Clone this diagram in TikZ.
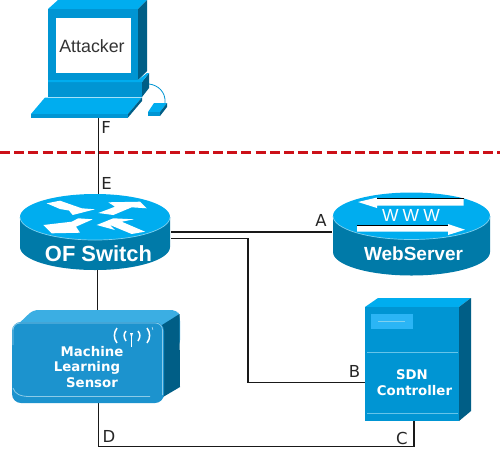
\documentclass[tikz,border=0pt]{standalone}
\usepackage{fontspec}
\setmainfont{DejaVu Sans}
\newfontfamily\arialfont{Liberation Sans}
\definecolor{ctop}{HTML}{00ADEF}
\definecolor{cfront}{HTML}{0095D3}
\definecolor{cside}{HTML}{005E86}
\definecolor{cbody}{HTML}{007AA8}
\definecolor{cedge}{HTML}{7FD0EE}
\definecolor{sensortop}{HTML}{3BAEE3}
\definecolor{sfront}{HTML}{1C93CE}
\definecolor{sline}{HTML}{8CCBE8}
\definecolor{dashred}{HTML}{CC1018}
\definecolor{panel}{HTML}{2BB5F5}
\tikzset{
  box/.style={inner sep=0pt,outer sep=0pt},
  wire/.style={draw=black!90,line width=1.1pt},
  lab/.style={inner sep=0pt,text=black!85,font=\fontsize{16.5}{17}\selectfont},
  devtext/.style={inner sep=0pt,text=white,font=\bfseries\fontsize{13.3}{14}\selectfont},
  bigtext/.style={inner sep=0pt,text=white,font=\arialfont\bfseries\fontsize{21.9}{22}\selectfont},
  webtext/.style={inner sep=0pt,text=white,font=\arialfont\bfseries\fontsize{19}{20}\selectfont},
}
\begin{document}
\begin{tikzpicture}[x=1pt,y=-1pt]
\useasboundingbox (0,0) rectangle (500,448);
\fill[white] (0,0) rectangle (500,448);
% invisible device frames
\node[box,minimum width=115pt,minimum height=117pt] (attacker) at (90,58.5) {};
\node[box,minimum width=150pt,minimum height=76pt] (switch) at (95,232) {};
\node[box,minimum width=157pt,minimum height=82pt] (web) at (411.5,234) {};
\node[box,minimum width=168pt,minimum height=93pt] (sensor) at (96,356.5) {};
\node[box,minimum width=94pt,minimum height=123pt] (ctrl) at (412,359.5) {};
\coordinate (swTop) at (98.5,194);
\coordinate (atBot) at (98.5,117);
\coordinate (swA) at (171,232);
\coordinate (webA) at (332,232);
\coordinate (swB) at (171,238.5);
\coordinate (ctrlB) at (365,382.5);
\coordinate (swS) at (97.5,270);
\coordinate (senS) at (97.5,310);
\coordinate (senD) at (98.5,403);
\coordinate (ctrlC) at (414,421);
\coordinate (bend) at (248,238.5);
\coordinate (low) at (98.5,446.5);
% dashed separator
\coordinate (dl) at (0,152.5);
\coordinate (dr) at (500,152.5);
\draw[dashred,line width=2.8pt,dash pattern=on 10pt off 4.2pt] (dl) -- (dr);
% connectors
\draw[wire] (atBot) -- (swTop);
\draw[wire] (swA) -- (webA);
\draw[wire] (swB) -- (bend) |- (ctrlB);
\draw[wire] (swS) -- (senS);
\draw[wire] (senD) -- (low) -| (ctrlC);
% Computer
\fill[ctop] (48,9) -- (58,0) -- (147,0) -- (138,9) -- cycle;
\fill[cside] (138,9) -- (147,0) -- (147,71) -- (138,80) -- cycle;
\fill[cfront] (48,9) rectangle (138,80);
\fill[white] (56,18) rectangle (131,73);
\fill[cfront] (48,82) rectangle (142,97);
\fill[cside] (142,82) -- (149,73) -- (149,88) -- (142,97) -- cycle;
\fill[ctop] (48,80) -- (138,80) -- (147,73) -- (149,73) -- (142,82) -- (48,82) -- cycle;
\fill[ctop] (45,97.5) -- (142,97.5) -- (128,114) -- (31,114) -- cycle;
\fill[cfront] (31,114) rectangle (128,117.5);
\fill[cside] (128,114) -- (142,97.5) -- (142,101) -- (128,117.5) -- cycle;
\draw[cfront,line width=.8pt] (149,84) .. controls (158,85) and (166,92) .. (165,103);
\fill[ctop] (154,103) -- (167,103) -- (160,112) -- (148,112) -- cycle;
\fill[cfront] (148,112) rectangle (160,116);
\fill[cside] (160,112) -- (167,103) -- (167,107) -- (160,116) -- cycle;
\node[inner sep=0pt,text=black!80,font=\arialfont\fontsize{17.8}{18}\selectfont] (attlabel) at (92,46.5) {Attacker};
% Switch
\fill[cbody] (20,217) -- (20,247) arc[start angle=180,end angle=0,x radius=75,y radius=23] -- (170,217) -- cycle;
\fill[ctop] (95,217) ellipse [x radius=75,y radius=23];
\draw[cedge,line width=.7pt] (20,217) arc[start angle=180,end angle=0,x radius=75,y radius=23];
\foreach \p in {
 {(46.7,203.3) -- (60,200.7) -- (81.7,208.3) -- (95,209.3) -- (72.7,215) -- (69,210.5) -- (60,209)},
 {(98.3,213) -- (115,206.7) -- (108.3,202.3) -- (140,201.7) -- (146.7,208.3) -- (131.7,207.3) -- (113.3,215)},
 {(43.3,225) -- (71.7,221.7) -- (78.3,218.3) -- (92.7,219.3) -- (76,226.7) -- (80,232.7) -- (51.7,233.3)},
 {(96.7,225) -- (113.3,218.3) -- (134,219.3) -- (121.7,221.7) -- (145,231.7) -- (131.7,234) -- (110,225) -- (115,230)}
}{\fill[white] \p -- cycle;}
\node[bigtext] (swlabel) at (98.5,253.5) {OF Switch};
% Web server
\fill[cbody] (333,216) -- (333,252) arc[start angle=180,end angle=0,x radius=78.5,y radius=23.5] -- (490,216) -- cycle;
\fill[ctop] (411.5,216) ellipse [x radius=78.5,y radius=23.5];
\draw[cedge,line width=.7pt] (333,216) arc[start angle=180,end angle=0,x radius=78.5,y radius=23.5];
\fill[white] (463.7,199) -- (377,199) -- (377,197.5) -- (358,202) -- (377,208) -- (377,205.5) -- (463.7,205.5) -- cycle;
\draw[black,line width=.8pt] (377,198) -- (463.7,198);
\fill[white] (357,226) -- (448,226) -- (448,224) -- (465,229.7) -- (448,235) -- (448,231.5) -- (357,231.5) -- cycle;
\draw[black,line width=.8pt] (357,225.5) -- (448,225.5);
\node[inner sep=0pt,text=white,font=\arialfont\fontsize{17.5}{18}\selectfont] (www) at (411,215.5) {W\hspace{4pt}W\hspace{4pt}W};
\node[webtext] (weblabel) at (413.5,254) {WebServer};
% Sensor
\fill[sensortop,rounded corners=5pt] (12,330) -- (33,310) -- (177,310) -- (180,316) -- (180,345) -- (163,360) -- (12,360) -- cycle;
\fill[cside] (162,325) -- (179.5,314) -- (180,387) -- (163,397) -- cycle;
\fill[sfront,rounded corners=9pt] (12,322) rectangle (164,403);
\draw[sline,line width=.8pt] (13,388) .. controls (15,394) and (20,396.5) .. (30,396.5) -- (150,396.5);
\draw[sline,line width=.8pt,rounded corners=7pt] (13,345) -- (13,323) -- (162.5,323) -- (162.5,395);
\draw[white,line width=1.5pt] (117,328) .. controls (113.5,333) and (113.5,338) .. (117,343);
\draw[white,line width=1.5pt] (126,331) .. controls (123.5,334) and (123.5,337) .. (126,341);
\draw[white,line width=1.5pt] (138,331) .. controls (140.5,334) and (140.5,337) .. (138,341);
\draw[white,line width=1.5pt] (147,328) .. controls (150.5,333) and (150.5,338) .. (147,343);
\draw[white,line width=.8pt] (131.5,335) -- (131.5,347);
\fill[white] (130,333) -- (133,333) -- (131.5,338) -- cycle;
\draw[white,line width=.4pt] (152,327) -- (153,330);
\node[devtext] (m1) at (92,352) {Machine};
\node[devtext] (m2) at (87,368) {Learning};
\node[devtext] (m3) at (92,383) {Sensor};
% Controller
\fill[ctop] (365,307) -- (378,298) -- (471,298) -- (459,307) -- cycle;
\fill[cside] (459,307) -- (471,298) -- (471,411) -- (459,421) -- cycle;
\fill[cfront] (365,307) rectangle (459,421);
\fill[panel] (370.5,314) rectangle (413,329);
\draw[cedge,line width=.7pt] (378,321.5) -- (405,321.5);
\draw[cedge!80!cfront,line width=.9pt] (367,352.5) -- (457.5,352.5);
\draw[cedge!80!cfront,line width=.9pt] (367,413.5) -- (457.5,413.5);
\node[devtext] (c1) at (412,375) {SDN};
\node[devtext] (c2) at (414.5,390.5) {Controller};
% letters
\node[lab] (lF) at (106,127.5) {F};
\node[lab] (lE) at (106.5,183.5) {E};
\node[lab] (lA) at (321,220) {A};
\node[lab] (lB) at (354.5,371) {B};
\node[lab] (lC) at (402,438) {C};
\node[lab] (lD) at (109,436) {D};
\end{tikzpicture}
\end{document}
